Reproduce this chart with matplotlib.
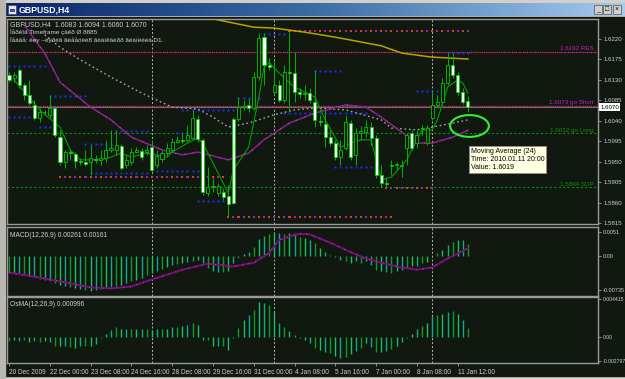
import numpy as np
import matplotlib
matplotlib.use("Agg")
import matplotlib.pyplot as plt
from matplotlib.patches import Rectangle, Ellipse
from matplotlib.colors import LinearSegmentedColormap

plt.rcParams['font.family'] = ['Liberation Sans', 'DejaVu Sans']

# ---------------- data ----------------
opens = [1.6141, 1.6134, 1.6152, 1.6119, 1.6097, 1.6075, 1.6046, 1.6059, 1.6053, 1.6068,
         1.6004, 1.5949, 1.5971, 1.5967, 1.5951, 1.5949, 1.5949, 1.5956, 1.5954, 1.5958,
         1.5976, 1.5976, 1.5985, 1.5943, 1.5949, 1.5971, 1.5974, 1.5971, 1.5982, 1.5943,
         1.5956, 1.5969, 1.5976, 1.5993, 1.5998, 1.5998, 1.6002, 1.6044, 1.5998, 1.5881,
         1.5894, 1.5881, 1.5883, 1.5875, 1.6044, 1.6044, 1.6070, 1.6075, 1.6068, 1.6136,
         1.6224, 1.6163, 1.6103, 1.6119, 1.6086, 1.6147, 1.6145, 1.6103, 1.6099, 1.6101,
         1.6081, 1.6040, 1.6033, 1.6004, 1.5991, 1.5960, 1.5980, 1.6035, 1.5965, 1.6013,
         1.6015, 1.6026, 1.6002, 1.5921, 1.5903, 1.5941, 1.5943, 1.5941, 1.5980, 1.6013,
         1.5991, 1.6022, 1.5991, 1.6046, 1.6075, 1.6081, 1.6123, 1.6163, 1.6141, 1.6103,
         1.6083]
highs = [1.6147, 1.6147, 1.6156, 1.6123, 1.6130, 1.6086, 1.6068, 1.6064, 1.6097, 1.6073,
         1.6020, 1.5976, 1.5976, 1.5971, 1.5958, 1.5976, 1.5987, 1.5965, 1.5976, 1.5998,
         1.6020, 1.6020, 1.5989, 1.5965, 1.5980, 1.5982, 1.5980, 1.5987, 1.5998, 1.5976,
         1.5976, 1.5991, 1.6002, 1.6007, 1.6013, 1.6031, 1.6064, 1.6053, 1.6002, 1.5938,
         1.5914, 1.5903, 1.5892, 1.5899, 1.6048, 1.6092, 1.6086, 1.6090, 1.6147, 1.6233,
         1.6233, 1.6178, 1.6174, 1.6130, 1.6163, 1.6235, 1.6191, 1.6112, 1.6119, 1.6112,
         1.6152, 1.6053, 1.6064, 1.6020, 1.5998, 1.5998, 1.6053, 1.6042, 1.6024, 1.6029,
         1.6042, 1.6037, 1.6009, 1.5943, 1.5914, 1.5954, 1.5949, 1.5954, 1.6013, 1.6020,
         1.6020, 1.6031, 1.6031, 1.6108, 1.6097, 1.6134, 1.6189, 1.6189, 1.6147, 1.6112,
         1.6094]
lows = [1.6125, 1.6125, 1.6112, 1.6086, 1.6075, 1.6042, 1.6037, 1.6053, 1.6046, 1.6004,
        1.5943, 1.5936, 1.5954, 1.5936, 1.5943, 1.5941, 1.5921, 1.5947, 1.5943, 1.5949,
        1.5971, 1.5965, 1.5932, 1.5936, 1.5943, 1.5969, 1.5954, 1.5965, 1.5927, 1.5936,
        1.5949, 1.5963, 1.5971, 1.5991, 1.5991, 1.5993, 1.5998, 1.5993, 1.5877, 1.5875,
        1.5883, 1.5875, 1.5866, 1.5828, 1.5857, 1.6040, 1.6064, 1.6059, 1.6064, 1.6130,
        1.6119, 1.6152, 1.6097, 1.6081, 1.6079, 1.6064, 1.6081, 1.6090, 1.6086, 1.6079,
        1.6026, 1.6029, 1.5982, 1.5985, 1.5954, 1.5943, 1.5976, 1.5954, 1.5943, 1.5998,
        1.6004, 1.5987, 1.5914, 1.5894, 1.5894, 1.5921, 1.5932, 1.5916, 1.5943, 1.5976,
        1.5980, 1.6009, 1.5987, 1.6042, 1.6068, 1.6075, 1.6119, 1.6134, 1.6097, 1.6077,
        1.6060]
closes = [1.6130, 1.6141, 1.6119, 1.6097, 1.6079, 1.6046, 1.6059, 1.6060, 1.6068, 1.6009,
          1.5949, 1.5971, 1.5969, 1.5952, 1.5949, 1.5945, 1.5958, 1.5954, 1.5958, 1.5976,
          1.5980, 1.5987, 1.5936, 1.5954, 1.5971, 1.5976, 1.5960, 1.5976, 1.5932, 1.5963,
          1.5969, 1.5980, 1.5993, 1.5998, 1.5996, 1.6009, 1.6046, 1.6000, 1.5883, 1.5894,
          1.5897, 1.5897, 1.5872, 1.5857, 1.5859, 1.6070, 1.6073, 1.6068, 1.6136, 1.6222,
          1.6163, 1.6158, 1.6119, 1.6086, 1.6147, 1.6145, 1.6103, 1.6099, 1.6101, 1.6086,
          1.6042, 1.6037, 1.6004, 1.5991, 1.5960, 1.5976, 1.6037, 1.5960, 1.6013, 1.6018,
          1.6026, 1.6002, 1.5921, 1.5903, 1.5901, 1.5943, 1.5945, 1.5943, 1.6009, 1.5980,
          1.6009, 1.6024, 1.6024, 1.6075, 1.6081, 1.6123, 1.6163, 1.6141, 1.6103, 1.6081,
          1.6070]

# indicator lines on the price chart (bar index, price)
fast_bars = [1, 6, 10, 12, 14, 18, 20, 22, 24, 27, 31, 32, 35, 37, 38, 43, 44, 47, 49, 50,
             51, 52, 54, 56, 60, 62, 65, 69, 71, 73, 75, 78, 81, 83, 84, 86, 88, 89, 90]
fast_vals = [1.6130, 1.6064, 1.6026, 1.5976, 1.5954, 1.5954, 1.5960, 1.5969, 1.5960, 1.5969,
             1.5960, 1.5971, 1.5991, 1.6002, 1.5991, 1.5881, 1.5932, 1.5982, 1.6092, 1.6158,
             1.6169, 1.6156, 1.6134, 1.6114, 1.6092, 1.6042, 1.5982, 1.5998, 1.5998, 1.5910,
             1.5916, 1.5954, 1.6020, 1.6020, 1.6042, 1.6114, 1.6130, 1.6123, 1.6101]
ma24_bars = [3, 7, 10, 16, 20, 24, 30, 34, 37, 43, 47, 50, 55, 60, 66, 70, 73, 77, 80, 83, 87, 90]
ma24_vals = [1.6250, 1.6189, 1.6125, 1.6070, 1.6042, 1.6004, 1.5976, 1.5965, 1.5971, 1.5954,
             1.5969, 1.5998, 1.6035, 1.6057, 1.6075, 1.6070, 1.6048, 1.6015, 1.5991, 1.5991,
             1.6004, 1.6019]
gray_bars = [7, 10, 14, 20, 26, 32, 37, 40, 43, 47, 52, 56, 60, 66, 73, 75, 80, 83, 87, 90]
gray_vals = [1.6229, 1.6202, 1.6174, 1.6136, 1.6101, 1.6070, 1.6066, 1.6048, 1.6026, 1.6035,
             1.6053, 1.6064, 1.6068, 1.6064, 1.6042, 1.6024, 1.6020, 1.6026, 1.6035, 1.6042]
long_bars = [30, 41, 48, 52, 58, 64, 73, 77, 83, 90]
long_vals = [1.6285, 1.6262, 1.6246, 1.6244, 1.6235, 1.6224, 1.6205, 1.6189, 1.6180, 1.6176]

# horizontal levels
level_prices = [1.6192, 1.6073, 1.6012, 1.5894]
level_labels = ['1.6192 RES', '1.6073 go Short', '1.6012 go Long', '1.5894 SUP']
bid_price = 1.6070

# short dotted level markers (level, first bar, last bar)
blue_levels = [1.6161, 1.6095, 1.6048, 1.6026, 1.6018, 1.5989, 1.5925, 1.5930, 1.6231,
               1.6090, 1.6064, 1.6057, 1.6013, 1.5864, 1.6150, 1.5938, 1.6106, 1.6189]
blue_start = [0, 8, 0, 6, 21, 15, 16, 29, 50, 45, 34, 54, 33, 37, 60, 64, 80, 86]
blue_end = [7, 15, 4, 8, 27, 20, 27, 37, 54, 49, 44, 70, 36, 42, 65, 72, 84, 90]
red_levels = [1.5916, 1.5828, 1.6238, 1.5892]
red_start = [10, 43, 55, 74]
red_end = [42, 75, 90, 83]

# MACD(12,26,9), in units of 0.001
macd_main = [-3.5, -3.6, -3.8, -4.0, -4.2, -4.6, -5.0, -5.3, -5.5, -5.8,
             -6.2, -6.5, -6.8, -7.0, -7.2, -7.4, -7.5, -7.4, -7.2, -7.0,
             -6.8, -6.5, -6.2, -5.9, -5.5, -5.1, -4.7, -4.2, -3.8, -3.3,
             -2.8, -2.4, -2.0, -1.8, -1.6, -1.4, -1.1, -0.9, -1.6, -2.6,
             -3.3, -3.5, -3.4, -3.3, -1.6, -0.5, 0.3, 0.7, 1.8, 3.6,
             4.2, 4.6, 4.9, 4.8, 4.7, 4.8, 4.8, 4.1, 3.8, 3.4,
             2.7, 1.6, 0.9, 0.2, -0.3, -0.85, -1.1, -1.6, -1.2, -1.6,
             -1.2, -1.9, -3.0, -3.3, -3.5, -3.6, -3.3, -3.0, -2.6, -2.3,
             -2.1, -1.6, -1.4, 0.0, 0.6, 1.3, 2.3, 3.0, 3.3, 3.3, 2.6]
signal_bars = [0, 5, 11, 16, 20, 24, 28, 34, 39, 44, 48, 51, 53, 56, 57, 59, 63, 67, 70,
               73, 77, 80, 83, 86, 90]
signal_vals = [-3.6, -4.5, -5.7, -6.8, -7.0, -6.6, -5.1, -3.0, -1.7, -2.3, -1.5, 0.6, 3.4,
               4.5, 4.7, 4.6, 2.8, 0.8, -0.6, -1.5, -2.5, -3.0, -2.5, -0.6, 1.6]

# OsMA(12,26,9), in units of 0.001
osma = [-0.5, -0.4, -0.5, -0.4, -0.6, -0.5, -0.6, -0.5, -0.6, -1.0,
        -1.1, -1.1, -1.2, -1.3, -1.1, -1.0, -1.1, -0.8, -0.15, 0.4,
        0.8, 1.2, 0.9, 0.9, 0.9, 0.9, 0.9, 0.9, 0.8, 0.9,
        0.9, 0.9, 1.1, 1.2, 1.3, 1.4, 1.6, 1.4, -0.3, -0.35,
        -1.1, -1.1, -1.1, -1.5, -0.15, 1.0, 2.0, 2.6, 3.1, 4.1,
        3.9, 3.7, 2.9, 1.6, 1.2, 0.7, 0.2, -0.15, -0.35, -0.7,
        -1.3, -1.5, -1.7, -1.9, -2.2, -2.4, -2.3, -2.0, -1.6, -1.3,
        -0.7, -1.2, -1.7, -1.8, -1.6, -1.4, -1.0, -0.6, -0.1, 0.4,
        0.9, 1.3, 1.6, 2.4, 2.6, 2.7, 2.9, 3.0, 2.7, 2.0, 1.0]

separator_bars = [28, 52, 83]
time_bars = [0, 8, 16, 24, 32, 40, 48, 56, 64, 72, 80, 88]
time_labels = ['20 Dec 2009', '22 Dec 00:00', '23 Dec 08:00', '24 Dec 16:00',
               '28 Dec 08:00', '29 Dec 16:00', '31 Dec 00:00', '4 Jan 08:00',
               '5 Jan 16:00', '7 Jan 00:00', '8 Jan 08:00', '11 Jan 12:00']
price_ticks = [1.6220, 1.6175, 1.6130, 1.6085, 1.6040, 1.5995, 1.5950, 1.5905, 1.5860, 1.5815]
macd_ticks = [0.0051, 0.0, -0.00735]
macd_tick_labels = ['0.0051', '0.00', '-0.00735']
osma_ticks = [0.004415, 0.0, -0.002797]
osma_tick_labels = ['0.004415', '0.00', '-0.002797']

# ---------------- figure ----------------
W, H = 625, 379
BG = '#101810'
TXT = '#d0d0d0'
fig = plt.figure(figsize=(W / 100, H / 100), dpi=100)
fig.patch.set_facecolor('#d4d0c8')


def px_axes(x0, y0, x1, y1):
    return fig.add_axes([x0 / W, 1 - y1 / H, (x1 - x0) / W, (y1 - y0) / H])


# window chrome
chrome = px_axes(0, 0, W, H)
chrome.axis('off')
chrome.add_patch(Rectangle((6, 17), W - 6, 359, color=BG))
chrome.add_patch(Rectangle((0, 0), 5, H, color='#b8b8b0'))
grad = np.linspace(0, 1, 256).reshape(1, -1)
tb = LinearSegmentedColormap.from_list('tb', ['#0a246a', '#3a6ea5', '#a6caf0'])
chrome.imshow(grad, cmap=tb, extent=[5, W, 16, 3], aspect='auto')
chrome.add_patch(Rectangle((8, 5), 8, 9, fc='#e8e8e8', ec='#404060', lw=0.5))
chrome.add_patch(Rectangle((9.5, 9), 5, 3, fc='#3050c0', lw=0))
chrome.text(19, 9.8, 'GBPUSD,H4', color='white', fontsize=6.3, fontweight='bold', va='center')
for bx, glyph in zip([594, 603, 613], ['_', '□', '×']):
    chrome.add_patch(Rectangle((bx, 5), 8, 9, fc='#d4d0c8', ec='#505050', lw=0.5))
    chrome.text(bx + 4, 9.6, glyph, fontsize=5, ha='center', va='center', color='black')
chrome.set_xlim(0, W)
chrome.set_ylim(H, 0)

ax = px_axes(7, 19, 598, 224)
axm = px_axes(7, 227, 598, 296)
axo = px_axes(7, 297, 598, 363)

XMIN, XMAX = -0.39, 115.5
for a in (ax, axm, axo):
    a.set_facecolor(BG)
    a.set_xlim(XMIN, XMAX)
    for s in a.spines.values():
        s.set_color('#9a9a9a')
        s.set_linewidth(1.0)
    a.yaxis.tick_right()
    a.tick_params(axis='y', colors='#a0a0a0', labelcolor=TXT, labelsize=4.4,
                  length=2.5, width=0.6, pad=1.5)
    a.tick_params(axis='x', bottom=False, labelbottom=False)
    for sb in separator_bars:
        a.axvline(sb, color='#b8b8a8', lw=0.7, ls=(0, (2, 2)), zorder=1)

# ---- price panel ----
ax.set_ylim(1.58128, 1.62640)
ax.set_yticks(price_ticks)
ax.set_yticklabels([f'{p:.4f}' for p in price_ticks])

ax.axhline(level_prices[0], color='#b0169e', lw=0.9, ls=(0, (1, 2)), zorder=1)
ax.axhline(level_prices[0], color='#e0402a', lw=0.9, ls=(1.5, (1, 2)), zorder=1)
ax.axhline(bid_price, color='#707070', lw=0.8, zorder=1)
ax.axhline(level_prices[1], color='#b0169e', lw=0.9, ls=(0, (1, 2)), zorder=1)
ax.axhline(level_prices[1], color='#e0402a', lw=0.9, ls=(1.5, (1, 2)), zorder=1)
ax.axhline(level_prices[2], color='#0a900a', lw=0.8, ls=(0, (2, 2)), zorder=1)
ax.axhline(level_prices[3], color='#0a900a', lw=0.8, ls=(0, (2, 2)), zorder=1)
for p, lab, col in zip(level_prices, level_labels, ['#c020c0', '#c020c0', '#109010', '#109010']):
    ax.text(0.992, p + 0.00012, lab, color=col, fontsize=4.5, ha='right', va='bottom',
            transform=ax.get_yaxis_transform())

for lv, s0, s1 in zip(blue_levels, blue_start, blue_end):
    xs = np.arange(s0, s1 + 1)
    ax.plot(xs, [lv] * len(xs), 's', color='#1830ff', ms=1.4, mew=0, zorder=2)
for lv, s0, s1 in zip(red_levels, red_start, red_end):
    xs = np.arange(s0, s1 + 1)
    cols = ['#e04020' if k % 2 == 0 else '#9a2aa0' for k in range(len(xs))]
    ax.scatter(xs, [lv] * len(xs), c=cols, marker='s', s=2.2, lw=0, zorder=2)

ax.plot(long_bars, long_vals, color='#b8a400', lw=1.1, zorder=2)
ax.plot(gray_bars, gray_vals, color='#a8a898', lw=1.0, ls=(0, (1.2, 2)), zorder=2)
ax.plot(ma24_bars, ma24_vals, color='#86209a', lw=1.1, zorder=2)
ax.plot(ma24_bars, ma24_vals, color='#e05020', lw=0.8, ls=(0, (1, 7)), zorder=2)
ax.plot(fast_bars, fast_vals, color='#00a000', lw=0.8, zorder=2)

x = np.arange(len(opens))
o, h, l, c = (np.array(v) for v in (opens, highs, lows, closes))
ax.vlines(x, l, h, color='#00b400', lw=0.7, zorder=3)
bear = c < o
body_lo = np.minimum(o, c)
body_h = np.maximum(np.abs(c - o), 0.00004)
ax.bar(x, body_h, bottom=body_lo, width=0.6, color=np.where(bear, '#f2fff2', BG),
       edgecolor='#00c800', linewidth=0.6, zorder=4)

ax.add_patch(Ellipse((90.3, 1.60285), 7.6, 0.0048, fill=False, ec='#33ee33', lw=1.5, zorder=6))
ax.text(90.55, 1.5980, 'Moving Average (24)\nTime: 2010.01.11 20:00\nValue: 1.6019',
        fontsize=5, color='black', ha='left', va='top', linespacing=1.2, zorder=10,
        bbox=dict(boxstyle='square,pad=0.25', fc='#ffffe1', ec='#909090', lw=0.6))

ax.text(1.004, bid_price, f'{bid_price:.4f}', transform=ax.get_yaxis_transform(),
        fontsize=4.4, color='black', ha='left', va='center', zorder=10,
        bbox=dict(boxstyle='square,pad=0.2', fc='white', ec='white', lw=0))

ax.text(0.005, 0.971, 'GBPUSD,H4  1.6083 1.6094 1.6060 1.6070', transform=ax.transAxes,
        color=TXT, fontsize=5, va='center')
ax.text(0.005, 0.934, 'Ïåðèîä Timeframe çàêð Ø 8885', transform=ax.transAxes,
        color=TXT, fontsize=4.6, va='center')
ax.text(0.005, 0.895, 'Ïåäâå: ëey ~ëÿðèã ãëååöèè8 ãëáíêâèðð ãëáíëèéá D1.', transform=ax.transAxes,
        color=TXT, fontsize=4.6, va='center')

# ---- MACD panel ----
hist_cols = ['#149a24', '#1cc060', '#12a888']
axm.set_ylim(-0.008638, 0.006173)
axm.vlines(x, 0, np.array(macd_main) / 1000, colors=[hist_cols[i % 3] for i in x], lw=1.0, zorder=2)
sig = np.array(signal_vals) / 1000
axm.plot(signal_bars, sig, color='#7a0a8a', lw=1.4, zorder=3)
axm.plot(signal_bars, sig, color='#e05020', lw=0.7, ls=(0, (1, 6)), zorder=3)
axm.set_yticks(macd_ticks)
axm.set_yticklabels(macd_tick_labels)
axm.tick_params(axis='y', labelsize=4.0, pad=1)
axm.text(0.005, 0.884, 'MACD(12,26,9) 0.00261 0.00161', transform=axm.transAxes,
         color=TXT, fontsize=4.8, va='center')

# ---- OsMA panel ----
axo.set_ylim(-0.003030, 0.004648)
axo.vlines(x, 0, np.array(osma) / 1000, colors=[hist_cols[i % 3] for i in x], lw=1.0, zorder=2)
axo.set_yticks(osma_ticks)
axo.set_yticklabels(osma_tick_labels)
axo.tick_params(axis='y', labelsize=3.7, pad=1)
axo.text(0.005, 0.879, 'OsMA(12,26,9) 0.000996', transform=axo.transAxes,
         color=TXT, fontsize=4.8, va='center')
axo.set_xticks(time_bars)
axo.set_xticklabels(time_labels)
axo.tick_params(axis='x', bottom=True, labelbottom=True, colors='#a0a0a0', labelcolor=TXT,
                labelsize=4.7, length=2.5, width=0.6, pad=1.5)
for lab in axo.get_xticklabels():
    lab.set_horizontalalignment('left')

fig.savefig('out.png', dpi=100, facecolor=fig.get_facecolor())
